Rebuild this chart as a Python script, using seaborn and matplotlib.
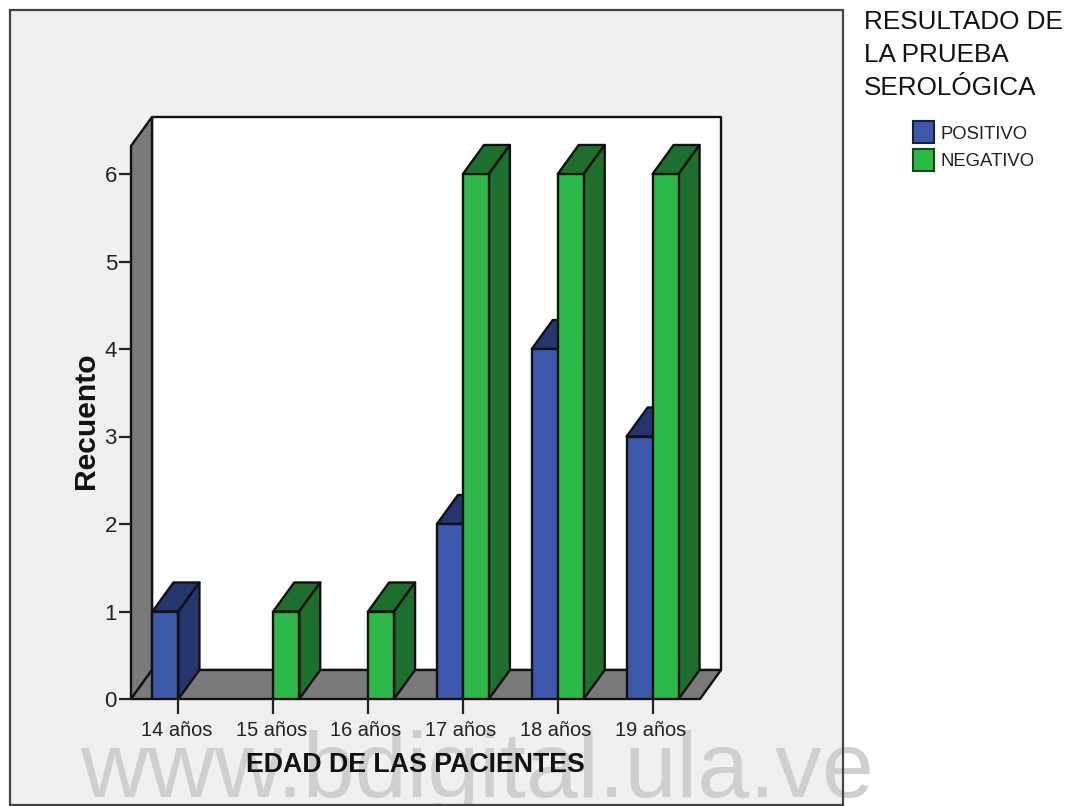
import matplotlib
matplotlib.use("Agg")
import matplotlib.pyplot as plt
from matplotlib.patches import Patch, Polygon, Rectangle
from matplotlib.transforms import ScaledTranslation
import pandas as pd
import seaborn as sns

# Chart values
edades = ["14 años", "15 años", "16 años", "17 años", "18 años", "19 años"]
positivo = [1, 0, 0, 2, 4, 3]
negativo = [0, 1, 1, 6, 6, 6]
resultados = ["POSITIVO", "NEGATIVO"]
y_ticks = [0, 1, 2, 3, 4, 5, 6]

# Face colours of the extruded bars
front_colors = {"POSITIVO": "#3E58AC", "NEGATIVO": "#2EB84A"}
shade_colors = {"POSITIVO": "#25366F", "NEGATIVO": "#1E6F2D"}
WALL = "#7A7A7A"
PANEL = "#F0F0F0"
LINE = "#111111"
EDGE_WIDTH = 1.7

W, H = 1072, 806
DEPTH_X = 21 / 94.83   # extrusion in category units
DEPTH_Y = 29 / 87.5    # extrusion in count units
WALL_TOP = 6.32


def fx(px):
    return px / W


def fy(py):
    return 1 - py / H


sns.set_theme(style="white")
plt.rcParams["font.family"] = ["Liberation Sans", "DejaVu Sans"]

fig = plt.figure(figsize=(W / 100, H / 100), dpi=100, facecolor="white")

# Grey chart panel, watermark above it, and the panel outline on top of both
fig.add_artist(Rectangle((fx(10), fy(805)), fx(833), 795 / H, transform=fig.transFigure,
                         facecolor=PANEL, edgecolor="none", zorder=-3))
fig.text(fx(80), fy(797), "www.bdigital.ula.ve", fontsize=67.2, color="#CFCFCF",
         ha="left", va="baseline", zorder=-2)
fig.add_artist(Rectangle((fx(10), fy(805)), fx(833), 795 / H, transform=fig.transFigure,
                         facecolor="none", edgecolor="#444444", linewidth=1.6, zorder=-1))

ax = fig.add_axes([fx(131), fy(699), fx(700 - 131), (699 - 174) / H])
ax.patch.set_visible(False)

rows = [(e, "POSITIVO", v) for e, v in zip(edades, positivo) if v > 0]
rows += [(e, "NEGATIVO", v) for e, v in zip(edades, negativo) if v > 0]
data = pd.DataFrame(rows, columns=["edad", "resultado", "recuento"])

sns.barplot(data=data, x="edad", y="recuento", hue="resultado", order=edades,
            hue_order=resultados, palette=front_colors, saturation=1, width=0.548, gap=0,
            edgecolor=LINE, linewidth=EDGE_WIDTH, errorbar=None, legend=False, ax=ax)

ax.set_xlim(-0.5, 5.5)
ax.set_ylim(0, 6)

# Back wall, side wall and floor of the box
x0, x1 = -0.5, 5.5
box = [
    ([(x0 + DEPTH_X, DEPTH_Y), (x1 + DEPTH_X, DEPTH_Y),
      (x1 + DEPTH_X, WALL_TOP + DEPTH_Y), (x0 + DEPTH_X, WALL_TOP + DEPTH_Y)], "white"),
    ([(x0, 0), (x0 + DEPTH_X, DEPTH_Y), (x0 + DEPTH_X, WALL_TOP + DEPTH_Y), (x0, WALL_TOP)], WALL),
    ([(x0, 0), (x1, 0), (x1 + DEPTH_X, DEPTH_Y), (x0 + DEPTH_X, DEPTH_Y)], WALL),
]
for verts, color in box:
    ax.add_patch(Polygon(verts, closed=True, facecolor=color, edgecolor=LINE,
                         linewidth=EDGE_WIDTH, joinstyle="round", clip_on=False, zorder=0.5))

# Top and side faces of each bar, layered so the green series covers the blue one
for i, (name, container) in enumerate(zip(resultados, ax.containers)):
    for bar in container:
        left, right = bar.get_x(), bar.get_x() + bar.get_width()
        top = bar.get_height()
        if not top > 0:
            continue
        bar.set_zorder(3 + 2 * i)
        top_face = [(left, top), (right, top), (right + DEPTH_X, top + DEPTH_Y), (left + DEPTH_X, top + DEPTH_Y)]
        side_face = [(right, 0), (right + DEPTH_X, DEPTH_Y), (right + DEPTH_X, top + DEPTH_Y), (right, top)]
        for verts in (top_face, side_face):
            ax.add_patch(Polygon(verts, closed=True, facecolor=shade_colors[name], edgecolor=LINE,
                                 linewidth=EDGE_WIDTH, joinstyle="round", clip_on=False, zorder=2 + 2 * i))

sns.despine(ax=ax, left=True, bottom=True, right=True, top=True)

ax.set_yticks(y_ticks)
ax.tick_params(axis="y", length=8.6, width=1.6, color="#222222", labelsize=16,
               labelcolor="#222222", pad=1.5, left=True)
ax.tick_params(axis="x", length=10.5, width=1.6, color="#222222", labelsize=14.4,
               labelcolor="#222222", pad=5, bottom=True)
shift_left = ScaledTranslation(-2 / 100, 0, fig.dpi_scale_trans)
for label in ax.get_xticklabels():
    label.set_transform(label.get_transform() + shift_left)

ax.set_xlabel("EDAD DE LAS PACIENTES", fontsize=19.3, fontweight="bold", color="#111111")
ax.xaxis.set_label_coords((415 - 131) / (700 - 131), (699 - 765) / (699 - 174))
ax.xaxis.label.set_va("center")
ax.set_ylabel("Recuento", fontsize=21.6, fontweight="bold", color="#111111")
ax.yaxis.set_label_coords((86 - 131) / (700 - 131), (699 - 421) / (699 - 174))
ax.yaxis.label.set_va("center")

# Legend block to the right of the panel
fig.text(fx(864), fy(22), "RESULTADO DE", fontsize=18.8, color="#111111", va="center")
fig.text(fx(864), fy(55), "LA PRUEBA", fontsize=18.8, color="#111111", va="center")
fig.text(fx(864), fy(88), "SEROLÓGICA", fontsize=18.8, color="#111111", va="center")
handles = [Patch(facecolor=front_colors[n], edgecolor="#15233F" if n == "POSITIVO" else "#0F4A1C",
                 linewidth=1.5, label=n) for n in resultados]
fig.legend(handles=handles, loc="upper left", bbox_to_anchor=(fx(906), fy(114)), frameon=False,
           fontsize=13.3, labelcolor="#222222", handlelength=1.14, handleheight=1.46,
           handletextpad=0.34, labelspacing=0.3, borderpad=0.4, borderaxespad=0)

fig.savefig("out.png", dpi=100)
